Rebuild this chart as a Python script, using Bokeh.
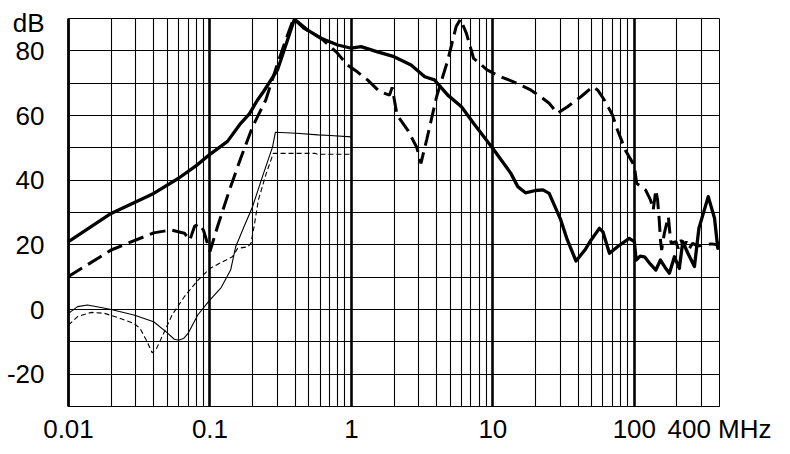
from bokeh.plotting import figure
from bokeh.models import Range1d, FixedTicker, Grid, LogAxis, LogScale
from bokeh.embed import file_html
from bokeh.resources import INLINE

# ---------------- data ----------------
# thick solid curve
solid_f = [0.01, 0.02, 0.04, 0.06, 0.08, 0.1, 0.133, 0.165, 0.19, 0.217, 0.24, 0.30,
           0.354, 0.395, 0.49, 0.61, 0.8, 1.0, 1.17, 1.53, 2.0, 2.64, 3.3, 3.86, 4.8,
           6.0, 7.3, 10, 13.4, 15, 17, 20, 22.6, 25, 30.2, 33.6, 38.7, 44.7, 49.5,
           56.6, 60, 66.7, 76, 92, 100, 103, 110, 118, 130, 142, 153, 165, 177, 192,
           208, 220, 239, 266, 286, 333, 369, 389, 400]
solid_db = [21.0, 29.7, 35.9, 40.6, 44.5, 48.0, 52.0, 57.6, 60.5, 64.8, 67.5, 74.1,
            83.4, 89.8, 86.4, 83.9, 81.8, 80.8, 81.3, 79.7, 78.2, 75.6, 72.0, 71.0, 66.3,
            62.7, 57.6, 49.8, 42.1, 38.0, 36.1, 36.8, 37.0, 35.9, 27.7, 21.5, 15.0, 18.4, 21.5,
            25.1, 24.0, 17.4, 19.4, 22.0, 21.0, 15.3, 16.5, 16.3, 14.0, 12.2, 15.3, 13.0, 11.2, 16.3,
            12.7, 21.0, 17.4, 13.3, 25.1, 34.9, 28.2, 18.9, 21.0]

# thick dashed curve
dash_f = [0.01, 0.02, 0.04, 0.053, 0.066, 0.072, 0.078, 0.084, 0.09, 0.1, 0.113, 0.14,
          0.165, 0.2, 0.248, 0.30, 0.354, 0.39, 0.46, 0.61, 0.78, 0.94, 1.1, 1.3, 1.58,
          1.86, 1.94, 2.1, 2.5, 2.9, 3.1, 3.4, 4.0, 4.8, 5.5, 5.9, 6.5, 7.3, 9.1, 11.3,
          14, 18.5, 21.8, 25, 28.6, 33.7, 41.9, 50.8, 55, 61.4, 70, 76, 87, 97, 100, 104,
          120, 130, 136, 142, 146, 150, 153, 156, 163, 174, 178, 182, 197, 204, 214, 223,
          233, 245, 258, 280, 310, 350, 389, 400]
dash_db = [10.2, 18.4, 23.7, 24.6, 23.6, 21.5, 25.8, 26.5, 24.5, 17.9, 25.6, 38.0,
           46.8, 56.5, 64.8, 76.0, 85.0, 90.0, 87.0, 83.9, 79.7, 75.6, 73.5, 71.0, 67.4,
           66.3, 68.7, 60.2, 55.5, 50.1, 45.2, 52.4, 65.8, 77.1, 87.5, 89.8, 85.4, 77.7, 74.1, 72.0,
           70.4, 67.9, 65.8, 63.8, 60.7, 62.7, 65.8, 68.9, 67.9, 64.8, 60.2, 55.5, 49.0, 45.5, 44.2, 39.0,
           37.0, 33.9, 30.8, 37.0, 33.9, 27.7, 21.5, 18.4, 23.6, 28.7, 24.1, 20.5, 21.0, 18.9, 21.5, 19.2,
           21.0, 18.9, 20.5, 19.6, 20.0, 20.3, 20.0, 19.6]

# thin solid curve
thin_f = [0.01, 0.0116, 0.0136, 0.017, 0.02, 0.029, 0.04, 0.049, 0.056, 0.06, 0.065,
          0.07, 0.082, 0.098, 0.12, 0.14, 0.152, 0.174, 0.2, 0.235, 0.277, 0.29, 0.41,
          0.58, 0.71, 1.0]
thin_db = [-1.2, 0.9, 1.4, 0.6, 0.0, -1.7, -3.8, -6.9, -9.2, -9.5, -9.0,
           -7.4, -1.7, 2.5, 6.8, 12.2, 19.4, 25.6, 31.8, 41.1, 50.3, 54.8, 54.5,
           54.0, 53.8, 53.4]

# thin dashed curve
thind_f = [0.01, 0.0116, 0.0144, 0.018, 0.022, 0.029, 0.032, 0.036, 0.039, 0.042, 0.047,
           0.054, 0.066, 0.082, 0.1, 0.123, 0.144, 0.157, 0.185, 0.195, 0.205, 0.22, 0.25,
           0.27, 0.28, 0.55, 0.58, 1.0]
thind_db = [-4.8, -2.2, -0.9, -1.2, -2.4, -4.3, -5.8, -10.0, -13.4, -12.0, -7.4,
            -1.7, 4.0, 9.0, 12.7, 14.8, 16.3, 18.9, 19.4, 20.5, 25.6, 33.9, 42.1,
            46.2, 48.3, 48.3, 48.0, 48.0]

# axes
x_lo, x_hi = 0.01, 400
y_lo, y_hi = -30, 90
unit_pos = 88.5          # where the "dB" unit text sits on the y axis
y_tick_vals = [-20, 0, 20, 40, 60, 80, unit_pos]
y_tick_labels = {-20: "-20", unit_pos: "dB"}
y_grid_vals = [-20, -10, 0, 10, 20, 30, 40, 50, 60, 70, 80]
x_decades = [0.1, 1, 10, 100]
x_minor = [m * d for d in [0.01, 0.1, 1, 10] for m in range(2, 10)] + [200, 300]
x_tick_vals = [0.01, 0.1, 1, 10, 100, 400]
x_tick_labels = {0.01: "0.01", 0.1: "0.1", 1: "1", 10: "10", 100: "100", 400: "400 MHz"}

FONT = "Liberation Sans"

p = figure(width=774, height=446,
           x_axis_type=None,
           x_range=Range1d(x_lo, x_hi), y_range=Range1d(y_lo, y_hi),
           output_backend="svg", toolbar_location=None,
           min_border_left=68, min_border_right=55,
           min_border_top=18, min_border_bottom=40)
p.x_scale = LogScale()

p.background_fill_color = "white"
p.border_fill_color = "white"
p.outline_line_color = "black"
p.outline_line_width = 1
p.outline_line_alpha = 1

xa = LogAxis(ticker=FixedTicker(ticks=x_tick_vals))
xa.major_label_overrides = x_tick_labels
xa.major_tick_out = 0
xa.major_tick_in = 0
xa.minor_tick_out = 0
xa.minor_tick_in = 0
xa.axis_line_color = "black"
xa.axis_line_width = 1
xa.major_label_text_font = FONT
xa.major_label_text_font_size = "26px"
xa.major_label_text_color = "black"
xa.major_label_standoff = 7
p.add_layout(xa, "below")

p.ygrid.ticker = FixedTicker(ticks=y_grid_vals)
p.ygrid.grid_line_color = "black"
p.ygrid.grid_line_width = 1.2
p.ygrid.grid_line_alpha = 1

g_minor = Grid(dimension=0, ticker=FixedTicker(ticks=x_minor),
               grid_line_color="black", grid_line_width=1.1, grid_line_alpha=1)
g_dec = Grid(dimension=0, ticker=FixedTicker(ticks=x_decades),
             grid_line_color="black", grid_line_width=2.6, grid_line_alpha=1)
p.add_layout(g_minor)
p.add_layout(g_dec)

ya = p.yaxis[0]
ya.ticker = FixedTicker(ticks=y_tick_vals)
ya.major_label_overrides = y_tick_labels
ya.major_tick_out = 0
ya.major_tick_in = 0
ya.minor_tick_out = 0
ya.minor_tick_in = 0
ya.axis_line_width = 2.8
ya.axis_line_color = "black"
ya.major_label_text_font = FONT
ya.major_label_text_font_size = "26px"
ya.major_label_text_color = "black"
ya.major_label_standoff = 24

p.line(thind_f, thind_db, line_color="black", line_width=1.1, line_dash="5 3")
p.line(thin_f, thin_db, line_color="black", line_width=1.1)
p.line(dash_f, dash_db, line_color="black", line_width=3, line_dash="16 7")
p.line(solid_f, solid_db, line_color="black", line_width=3.3, line_join="round")

open("out.html", "w").write(file_html(p, INLINE))
